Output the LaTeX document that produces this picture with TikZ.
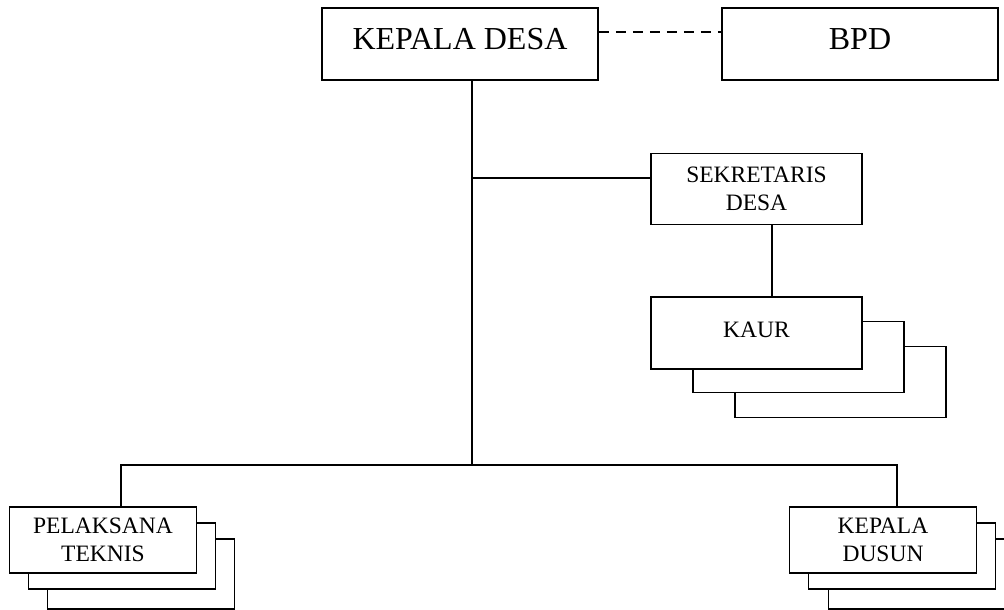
\documentclass[tikz,border=0pt]{standalone}
\usepackage{fontspec}
\setmainfont{Liberation Serif}
\begin{document}
\begin{tikzpicture}[x=1pt,y=-1pt,
  box/.style={draw=black, line width=1.8pt, fill=white, inner sep=0pt, align=center},
  bigbox/.style={box, minimum width=276pt, minimum height=72pt, font=\fontsize{32}{38}\selectfont, text depth=10pt},
  midbox/.style={box, minimum width=211pt, minimum height=71pt, font=\fontsize{23.5}{28}\selectfont},
  lowbox/.style={box, minimum width=187pt, minimum height=66pt, font=\fontsize{23.5}{28}\selectfont},
  conn/.style={line width=1.8pt},
  dashconn/.style={line width=1.8pt, dash pattern=on 10pt off 7pt}]
\useasboundingbox (0,0) rectangle (1004,610);

% top row
\node[bigbox] (kd) at (460,44) {KEPALA DESA};
\node[bigbox] (bpd) at (860,44) {BPD};

% sekretaris
\node[midbox] (sek) at (756.5,189) {SEKRETARIS\\DESA};

% kaur stack
\node[midbox] (kaur3) at (840.5,382) {};
\node[midbox] (kaur2) at (798.5,357) {};
\node[midbox, minimum height=72pt, text depth=6pt] (kaur) at (756.5,333) {KAUR};

% pelaksana teknis stack
\node[lowbox, minimum height=70pt] (pel3) at (141,574) {};
\node[lowbox] (pel2) at (122,556) {};
\node[lowbox] (pel) at (103,540) {PELAKSANA\\TEKNIS};

% kepala dusun stack
\node[lowbox, minimum height=70pt] (dus3) at (922,574) {};
\node[lowbox] (dus2) at (902,556) {};
\node[lowbox] (dus) at (883,540) {KEPALA\\DUSUN};

% connectors
\coordinate (bus) at (472,465);
\coordinate (j1) at (472,178);
\draw[dashconn] ([yshift=12pt]kd.east) -- ([yshift=12pt]bpd.west);
\draw[conn] (kd.south -| bus) -- (bus);
\draw[conn] (j1) -- (j1 -| sek.west);
\draw[conn] ([xshift=15.5pt]sek.south) -- ([xshift=15.5pt]kaur.north);
\draw[conn] ([xshift=18pt]pel.north) |- (bus) -| ([xshift=14pt]dus.north);
\end{tikzpicture}
\end{document}
